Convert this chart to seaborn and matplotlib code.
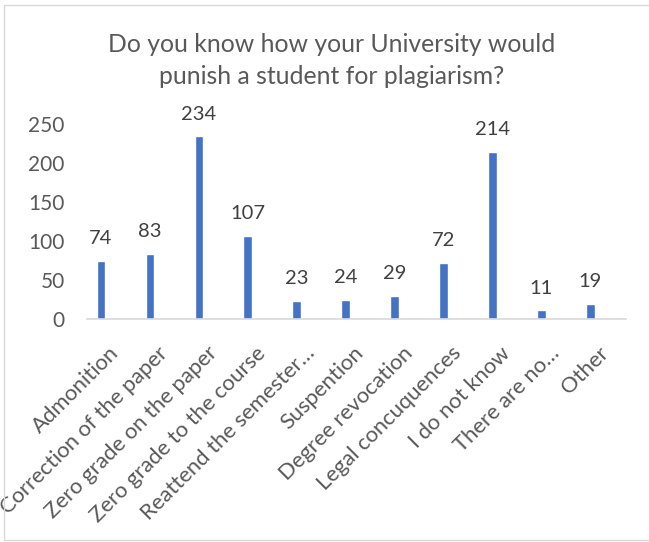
import matplotlib
matplotlib.use('Agg')
import matplotlib.pyplot as plt
import matplotlib.transforms as mtransforms
from matplotlib.patches import Rectangle
import seaborn as sns
import pandas as pd

# survey answers
categories = ['Admonition', 'Correction of the paper', 'Zero grade on the paper',
              'Zero grade to the course', 'Reattend the semester\u2026', 'Suspention',
              'Degree revocation', 'Legal concuquences', 'I do not know',
              'There are no\u2026', 'Other']
responses = [74, 83, 234, 107, 23, 24, 29, 72, 214, 11, 19]
y_ticks = [0, 50, 100, 150, 200, 250]

title = 'Do you know how your University would\npunish a student for plagiarism?'
bar_color = '#4472C4'
text_color = '#595959'

sns.set_theme(style='white')
plt.rcParams['font.family'] = ['Lato', 'DejaVu Sans']

W, H = 649, 542
fig = plt.figure(figsize=(W / 100, H / 100), dpi=100)
ax = fig.add_axes([87 / W, 1 - 319 / H, 539 / W, 195 / H])

df = pd.DataFrame({'answer': categories, 'count': responses})
sns.barplot(data=df, x='answer', y='count', color=bar_color, saturation=1,
            width=0.175, ax=ax)

ax.set_xlim(-0.286, 10.73)
ax.set_ylim(0, 250)
ax.set_yticks(y_ticks)
ax.set_xlabel('')
ax.set_ylabel('')

# valeurs au-dessus des barres
ax.bar_label(ax.containers[0], padding=10, fontsize=14.5, color='#404040')

# axes style
for side in ['top', 'right', 'left']:
    ax.spines[side].set_visible(False)
ax.spines['bottom'].set_color('#D9D9D9')
ax.spines['bottom'].set_linewidth(1.2)
ax.tick_params(axis='y', length=0, pad=16, labelsize=15, labelcolor=text_color)
ax.tick_params(axis='x', length=0, labelbottom=False)

# rotated category labels, anchored at their right end
offset = mtransforms.ScaledTranslation(0.15, -0.31, fig.dpi_scale_trans)
for i, cat in enumerate(categories):
    ax.text(i, 0, cat, transform=ax.get_xaxis_transform() + offset,
            rotation=45, rotation_mode='anchor', ha='right', va='center',
            fontsize=15.8, color=text_color, clip_on=False)

fig.text(332 / W, 1 - 60.5 / H, title, ha='center', va='center',
         fontsize=17.8, color=text_color, linespacing=1.45)

# chart frame
fig.patches.append(Rectangle((4 / W, 1 - 540 / H), 1.0, 535 / H,
                             transform=fig.transFigure, fill=False,
                             edgecolor='#D9D9D9', linewidth=1))

fig.savefig('out.png', dpi=100)
